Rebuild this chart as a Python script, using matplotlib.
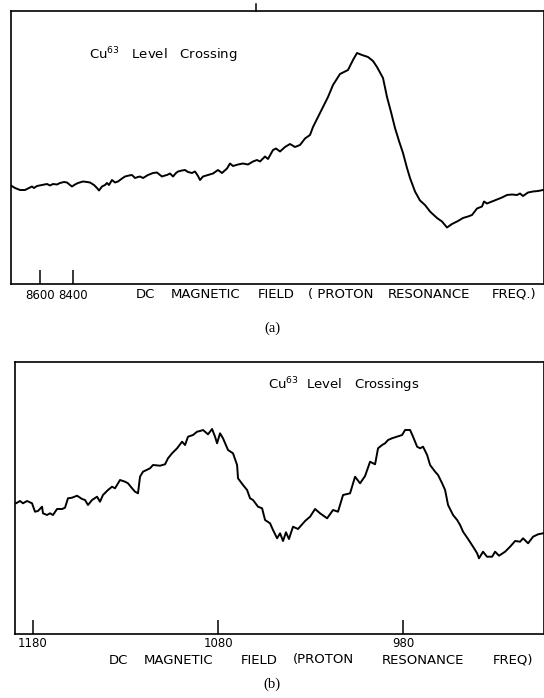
import matplotlib.pyplot as plt

# (a) single Cu63 level crossing: field (proton resonance freq.) vs signal (arb. units)
field_a = [8774, 8750, 8720, 8690, 8666, 8648, 8636, 8618, 8588, 8558,
           8540, 8522, 8498, 8480, 8456, 8438, 8420, 8408, 8390, 8372,
           8342, 8318, 8300, 8276, 8258, 8246, 8228, 8210, 8198, 8186,
           8168, 8150, 8132, 8108, 8090, 8066, 8048, 8030, 8012, 8000,
           7982, 7952, 7922, 7898, 7880, 7868, 7850, 7838, 7820, 7802,
           7784, 7772, 7748, 7730, 7712, 7688, 7670, 7652, 7640, 7622,
           7592, 7562, 7532, 7508, 7478, 7460, 7442, 7412, 7382, 7352,
           7322, 7298, 7280, 7250, 7232, 7202, 7184, 7160, 7130, 7100,
           7070, 7040, 7010, 6980, 6962, 6920, 6872, 6842, 6800, 6752,
           6722, 6698, 6668, 6632, 6602, 6578, 6542, 6518, 6494, 6470,
           6446, 6422, 6398, 6380, 6350, 6320, 6290, 6260, 6218, 6188,
           6158, 6128, 6092, 6062, 6032, 6008, 5978, 5948, 5936, 5918,
           5888, 5858, 5828, 5798, 5768, 5738, 5720, 5702, 5672, 5642,
           5612, 5582]
signal_a = [97.5, 95, 93, 93, 95, 96.5, 95, 97, 98, 99,
            97.5, 99, 98.5, 100, 101, 100.5, 98, 96.5, 98.5, 100,
            101.5, 101, 100.5, 98, 95, 92.5, 96.5, 98, 100, 98,
            103, 100.5, 101.5, 104.5, 106.5, 107.5, 108, 105, 106, 106.5,
            105, 108, 110, 110.5, 108, 106.5, 107.5, 108, 109.5, 106.5,
            110, 111.5, 112.5, 113, 111, 110, 111.5, 107, 103, 106.5,
            108, 109.5, 113, 110, 114.5, 119.5, 117, 118.5, 119.5, 118.5,
            121.5, 123, 121.5, 126.5, 124, 133, 134.5, 131.5, 136, 139,
            136, 138, 144.5, 148, 156, 170, 186, 198, 209, 213,
            223, 230, 228, 226, 222, 216, 205, 186, 171, 155,
            142, 130, 115, 105, 91.5, 82.5, 78, 71.5, 65, 61.5,
            55.5, 59, 62, 65, 66.5, 68, 74.5, 76.5, 81.5, 79.5,
            81.5, 83.5, 85.5, 88, 88.5, 88, 89.5, 87, 90.5, 91.5,
            92, 93]
ticks_a = [8600, 8400]
marker_a = 7304

# (b) two Cu63 level crossings
field_b = [1189.1, 1186.9, 1185.3, 1183.1, 1180.4, 1178.8, 1177.2, 1175.0, 1174.5, 1172.3,
           1170.7, 1169.1, 1166.9, 1164.2, 1162.6, 1161.0, 1158.8, 1156.1, 1153.4, 1151.8,
           1150.2, 1148.0, 1145.3, 1143.7, 1142.1, 1139.4, 1137.2, 1135.6, 1132.9, 1130.2,
           1128.6, 1126.4, 1124.8, 1123.2, 1122.1, 1120.5, 1116.7, 1115.1, 1111.3, 1108.6,
           1107.0, 1104.8, 1102.1, 1099.4, 1097.8, 1096.2, 1093.5, 1091.3, 1089.7, 1088.1,
           1085.4, 1083.2, 1081.6, 1080.5, 1078.9, 1077.3, 1074.6, 1071.9, 1069.7, 1069.2,
           1066.5, 1064.3, 1062.7, 1061.1, 1058.4, 1056.2, 1054.6, 1051.9, 1050.3, 1048.1,
           1046.5, 1044.9, 1043.3, 1041.7, 1039.5, 1036.8, 1033.0, 1030.3, 1027.6, 1024.9,
           1021.1, 1017.9, 1015.2, 1012.5, 1008.7, 1006.0, 1003.3, 1000.6, 997.9, 995.2,
           993.6, 991.4, 989.8, 988.2, 986.1, 983.4, 980.6, 979.0, 976.3, 974.7,
           972.5, 970.9, 969.3, 967.1, 965.5, 962.8, 961.2, 959.0, 957.4, 955.8,
           953.1, 950.9, 949.3, 947.7, 945.0, 942.3, 940.1, 939.1, 936.9, 934.8,
           932.0, 930.4, 928.3, 925.0, 922.3, 919.6, 916.9, 915.3, 912.6, 909.9,
           907.2, 904.5]
signal_b = [139.7, 142, 139.7, 142, 139.7, 131.3, 132, 136.3, 129.7, 128,
            129.7, 128, 134, 134, 135.3, 144.7, 145.3, 147.3, 144, 143,
            138, 143, 146.3, 141.3, 148, 153, 156.3, 154.7, 163, 161.3,
            159.7, 154.7, 151.3, 149.7, 166.3, 171.3, 174.7, 178, 177.3, 178.7,
            184.7, 189.7, 194.7, 201.3, 198, 206.3, 208, 211.3, 212, 213,
            208.7, 214, 206.3, 199.7, 209.7, 204.7, 193, 189.7, 178, 164.7,
            158, 153, 144.7, 143, 136.3, 134.7, 123, 119.7, 113, 104.7,
            109.7, 102, 110.7, 104, 116.3, 114, 122, 126.3, 134, 129.7,
            124.7, 133, 131.3, 148, 149.7, 166.3, 159.7, 167, 181.3, 178.7,
            194.7, 198, 199.7, 203, 204.7, 206.3, 208, 213, 213, 206.3,
            196.3, 194.7, 196.3, 188, 178, 171.3, 168, 159.7, 153, 138,
            128, 123, 118, 111.3, 104, 96.3, 89.7, 84.7, 91.3, 86.3,
            86.3, 91.3, 87.3, 91.3, 96.3, 102, 101.3, 104.7, 99.7, 106.3,
            108.7, 109.7]
ticks_b = [1180, 1080, 980]

# axis label words, spread out like the hand lettering
words_a = ["DC", "MAGNETIC", "FIELD", "( PROTON", "RESONANCE", "FREQ.)"]
words_b = ["DC", "MAGNETIC", "FIELD", "(PROTON", "RESONANCE", "FREQ)"]
word_x_a = [136, 171, 258, 308, 388, 492]
word_x_b = [109, 144, 241, 293, 382, 493]

W, H = 544, 698
label_font = {'family': 'DejaVu Sans', 'size': 9.5}
tick_font = {'family': 'DejaVu Sans', 'size': 8.5}

fig = plt.figure(figsize=(W / 100, H / 100), dpi=100)

# ---- panel (a)
ax1 = fig.add_axes([11 / W, 1 - 283.5 / H, 1 - 11 / W, 272.5 / H])
ax1.plot(field_a, signal_a, color='black', lw=1.4)
ax1.set_xlim(8774, 5576)
ax1.set_ylim(-0.5, 272)
ax1.set_yticks([])
ax1.set_xticks(ticks_a)
ax1.set_xticklabels([str(t) for t in ticks_a], fontdict=tick_font)
ax1.tick_params(axis='x', direction='in', length=10, width=1.1, pad=4)
# small recorder mark sticking out above the frame
ax1.axvline(marker_a, ymin=1.0, ymax=1.025, color='black', lw=1.1, clip_on=False)
ax1.text(0.147, 0.822, r"Cu$^{63}$   Level   Crossing", transform=ax1.transAxes,
         fontdict=label_font)
for w, x in zip(words_a, word_x_a):
    fig.text(x / W, 1 - 294 / H, w, ha='left', va='center', fontdict=label_font)
fig.text(0.5, 1 - 328 / H, "(a)", ha='center', va='center',
         family='Liberation Serif', size=10.5)

# ---- panel (b)
ax2 = fig.add_axes([15 / W, 1 - 634 / H, 1 - 15 / W, 272 / H])
ax2.plot(field_b, signal_b, color='black', lw=1.4)
ax2.set_xlim(1189.6, 904.0)
ax2.set_ylim(9, 281)
ax2.set_yticks([])
ax2.set_xticks(ticks_b)
ax2.set_xticklabels([str(t) for t in ticks_b], fontdict=tick_font)
ax2.tick_params(axis='x', direction='in', length=10, width=1.1, pad=2)
ax2.text(0.478, 0.9, r"Cu$^{63}$  Level   Crossings", transform=ax2.transAxes,
         fontdict=label_font)
for w, x in zip(words_b, word_x_b):
    fig.text(x / W, 1 - 660 / H, w, ha='left', va='center', fontdict=label_font)
fig.text(0.5, 1 - 684 / H, "(b)", ha='center', va='center',
         family='Liberation Serif', size=10.5)

for ax in (ax1, ax2):
    for s in ax.spines.values():
        s.set_linewidth(1.2)

fig.savefig("out.png", dpi=100)
